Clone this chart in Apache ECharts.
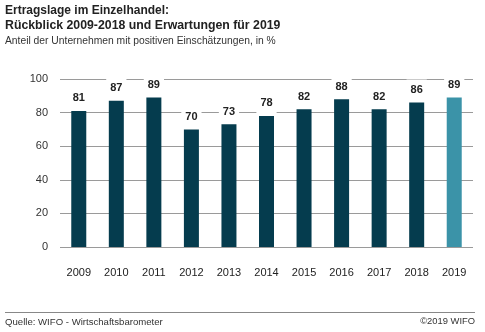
<!DOCTYPE html>
<html><head><meta charset="utf-8">
<script src="https://cdn.jsdelivr.net/npm/echarts@6/dist/echarts.min.js"></script>
<style>html,body{margin:0;padding:0;background:#fff}#c{width:485px;height:332px}</style>
</head><body><div id="c"></div>
<script>
const years = ['2009','2010','2011','2012','2013','2014','2015','2016','2017','2018','2019'];
const values = [81, 87, 89, 70, 73, 78, 82, 88, 82, 86, 89];
const yTicks = [0, 20, 40, 60, 80, 100];
const darkColor = '#053c4e';
const forecastColor = '#3b93a8';
const FONT = 'Liberation Sans';

const chart = echarts.init(document.getElementById('c'), null, {renderer: 'canvas'});
chart.setOption({
  animation: false,
  textStyle: {fontFamily: FONT},
  grid: {left: 60, right: 12, top: 79, bottom: 85, containLabel: false},
  xAxis: {
    type: 'category', data: years,
    axisLine: {show: false}, axisTick: {show: false},
    axisLabel: {color: '#222', fontSize: 11, margin: 20, fontFamily: FONT}
  },
  yAxis: {
    type: 'value', min: yTicks[0], max: yTicks[yTicks.length - 1], interval: 20,
    axisLine: {show: false}, axisTick: {show: false},
    axisLabel: {color: '#333', fontSize: 11, margin: 12, fontFamily: FONT},
    splitLine: {lineStyle: {color: '#9a9a9a', width: 1}}
  },
  series: [{
    type: 'bar', barWidth: 15,
    data: values.map((v, i) => ({value: v, itemStyle: {color: i === values.length - 1 ? forecastColor : darkColor}})),
    label: {
      show: true, position: 'top', distance: 2,
      color: '#222', fontWeight: 'bold', fontSize: 11, fontFamily: FONT,
      backgroundColor: '#fff', padding: [5, 4]
    }
  }],
  graphic: [
    {type: 'text', left: 5, top: 5, style: {text: 'Ertragslage im Einzelhandel:', font: 'bold 12px "Liberation Sans"', fill: '#222'}},
    {type: 'text', left: 5, top: 20, style: {text: 'Rückblick 2009-2018 und Erwartungen für 2019', font: 'bold 12.3px "Liberation Sans"', fill: '#222'}},
    {type: 'text', left: 5, top: 36, style: {text: 'Anteil der Unternehmen mit positiven Einschätzungen, in %', font: '10.3px "Liberation Sans"', fill: '#333'}},
    {type: 'line', shape: {x1: 5, y1: 312.5, x2: 475, y2: 312.5}, style: {stroke: '#888', lineWidth: 1}},
    {type: 'text', left: 5, top: 317, style: {text: 'Quelle: WIFO - Wirtschaftsbarometer', font: '9.6px "Liberation Sans"', fill: '#333'}},
    {type: 'text', right: 10, top: 317, style: {text: '©2019 WIFO', font: '9.4px "Liberation Sans"', fill: '#333'}}
  ]
});
</script></body></html>
